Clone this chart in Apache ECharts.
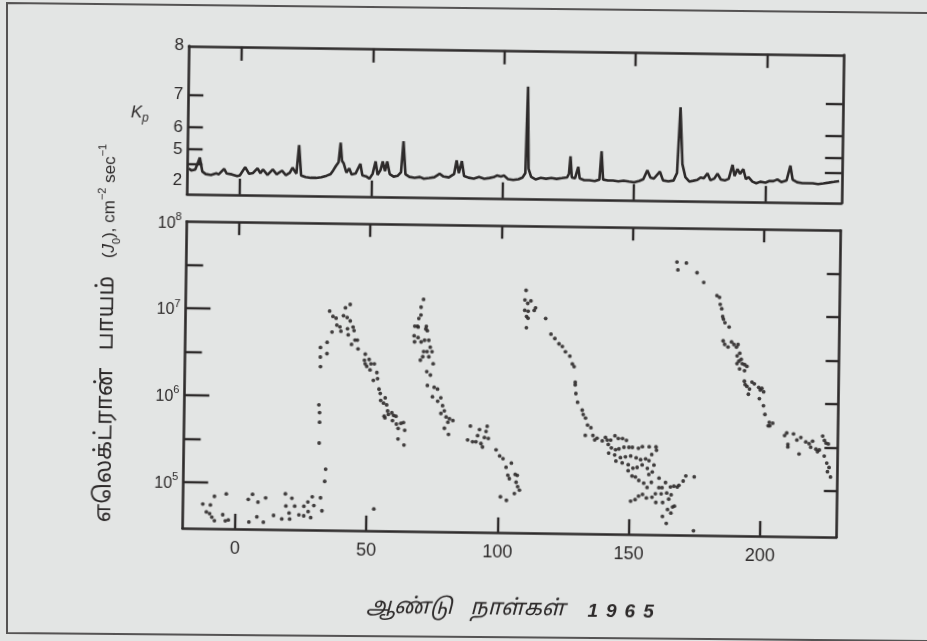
<!DOCTYPE html>
<html><head><meta charset="utf-8">
<script src="https://cdn.jsdelivr.net/npm/echarts@6/dist/echarts.min.js"></script>
<style>
html,body{margin:0;padding:0;background:#e3e5e4;width:927px;height:641px;overflow:hidden;}
#frame{position:absolute;left:0;top:0;width:927px;height:641px;}
#chart{position:absolute;left:0;top:0;width:927px;height:641px;transform:rotate(0.79deg);transform-origin:463px 320px;}
</style></head><body>
<svg id="frame" width="927" height="641"><polyline points="930,13 7,3 7,633 930,641" fill="none" stroke="#555353" stroke-width="2"/></svg>
<div id="chart"></div>
<script>
// ---- data ----
const dayTicks = [0, 50, 100, 150, 200];
const kpLabelValues = [2, 4, 5, 6, 7, 8];
const kpLeftTickValues = [4, 5, 6, 7];
const kpRightTickValues = [4, 5, 6, 7];
const fluxLabelExponents = [5, 6, 7, 8];
const fluxMajorExponents = [5, 6, 7];
const fluxMinorExponents = [5.5, 6.5, 7.5];
const fluxRightExponents = [5, 5.5, 6, 6.5, 7, 7.5];

// Kp index [day of 1965, Kp]
const kpPoints = [
[-19.5,3.6],[-18.5,3.4],[-17,3.5],[-16.2,4.0],[-15.3,4.5],[-14.3,3.3],[-13,3.0],[-11,2.9],[-9,3.1],[-8,3.0],[-6,3.6],[-5,3.1],[-3,3.0],[-1,2.8],[0,2.9],
[2,3.8],[3.5,3.1],[5,3.2],[6.7,3.7],[7.8,3.2],[8.8,3.6],[10.5,3.0],[12.5,3.6],[14,3.1],[16,3.5],[17.5,3.0],[19,3.3],[20,3.8],[21.5,3.2],[22.4,5.3],[23.3,3.0],
[25,2.8],[27,2.7],[29,2.7],[31,2.8],[33,3.0],[34.5,3.2],[35.5,3.6],[36.5,4.0],[37.5,4.3],[38.2,5.45],[38.8,4.4],[39.5,4.2],[40.5,3.4],[41.6,3.8],[42.5,3.2],
[44,3.3],[45.8,4.2],[46.6,3.1],[48,3.0],[49.3,2.7],[50.5,3.3],[51.6,4.4],[52.4,3.2],[53.5,3.7],[54.3,4.4],[55.2,3.6],[56,4.4],[57,3.3],[58.5,3.0],[60,3.1],
[61.3,3.5],[62.1,5.55],[63,3.3],[64.5,3.0],[66.5,2.9],[68.5,3.0],[70,2.8],[72,2.9],[74,3.0],[76,3.4],[77.5,3.1],[79.5,3.0],[81.5,3.4],[82.4,4.55],[83.3,3.5],
[84.4,4.5],[85.3,3.2],[87,3.0],[89,2.9],[91,3.1],[93,2.9],[95,3.0],[96.5,3.1],[97.8,3.3],[98.5,3.5],[99.3,3.2],[100.5,3.3],[102,2.9],[104,2.8],[106,2.9],
[107.5,3.1],[108.6,3.6],[109.2,7.3],[109.8,4.0],[110.8,3.2],[112.5,2.9],[114.5,3.1],[116.5,3.0],[118.5,3.1],[120.5,3.0],[122.5,3.1],[124.5,3.2],[125.2,3.6],
[125.7,4.9],[126.3,3.2],[127.5,3.1],[128.2,3.8],[128.7,4.2],[129.3,3.1],[131,2.9],[133,2.9],[135,2.8],[136.8,3.0],[137.5,5.2],[138.2,3.0],[140,2.9],[142,2.9],
[144,2.8],[146,2.9],[148,2.8],[150,2.7],[152,2.9],[153.5,3.1],[155,4.0],[156.2,3.3],[157.5,3.2],[159.8,3.9],[161,3.0],[163,2.9],[165,3.0],[166.3,3.8],
[167.3,6.85],[168.3,4.5],[169.5,3.4],[171,2.9],[172.5,3.0],[174,3.1],[175.3,3.4],[176.5,3.3],[177.9,3.8],[179,3.1],[180.5,3.3],[181.7,3.8],[183,3.2],
[184.5,3.1],[186,3.3],[187.4,4.5],[188.2,3.6],[189.3,4.2],[190.3,3.8],[191.5,4.2],[192.5,3.3],[193.5,3.5],[195,3.0],[196.5,2.8],[198,3.0],[200,2.9],
[201.5,3.1],[203,3.1],[204.5,3.3],[206,3.0],[208,3.2],[209.4,4.5],[210.3,3.3],[212,3.0],[214,2.9],[216,2.9],[218,2.9],[220,2.8],[222,2.9],[224,3.0],[226,3.1],[228,3.2]
];

// Electron flux J0: [day of 1965, log10(J0 in cm^-2 s^-1)]
const fluxQuiet = [
[-12.4,4.75],[-9.5,4.74],[-8.0,4.84],[-11.0,4.66],[-9.75,4.64],[-8.9,4.60],[-7.9,4.56],[-4.75,4.63],[-3.5,4.87],[-2.6,4.57],[-3.75,4.56],[5.25,4.55],
[4.9,4.81],[6.5,4.87],[8.6,4.78],[8.25,4.61],[10.75,4.55],[11.5,4.83],[14.6,4.63],[17.75,4.59],[19.0,4.88],[19.25,4.74],[20.75,4.59],[20.5,4.66],
[21.5,4.83],[22.6,4.74],[24.25,4.64],[26.1,4.74],[26.1,4.63],[27.75,4.68],[27.6,4.79],[28.75,4.61],[29.25,4.85],[29.9,4.75],[32.4,4.84],[33.0,4.69],[52.75,4.72]
];
const fluxEvent1 = [
[33.9,5.03],[34.2,5.17],[31.6,5.47],[31.65,5.71],[31.6,5.82],[31.3,5.91],[31.7,6.35],[31.6,6.46],[31.6,6.57],[34.1,6.50],[34.1,6.63],
[34.9,6.99],[36.2,6.93],[35.9,6.75],[37.4,6.91],[37.7,6.83],[38.9,6.81],[39.3,6.76],[40.2,6.94],[40.9,7.03],[41.6,6.92],[41.8,6.79],[42.1,6.72],
[42.7,7.07],[42.8,6.88],[43.4,6.61],[43.9,6.81],[44.3,6.77],[44.7,6.66],[45.6,6.66],[45.9,6.56],[48.7,6.50],[48.4,6.43],[48.7,6.39],[49.3,6.36],
[50.2,6.44],[50.9,6.39],[52.2,6.39],[50.6,6.32],[51.9,6.20],[53.5,6.22],[53.2,6.29],[54.1,6.10],[54.6,6.05],[54.8,5.97],[55.9,5.94],[56.5,6.00],
[57.1,5.92],[57.5,5.85],[56.2,5.79],[56.5,5.77],[57.8,5.81],[59.1,5.83],[59.4,5.74],[59.8,5.80],[60.7,5.79],[60.9,5.70],[61.6,5.65],[62.6,5.71],
[63.6,5.72],[64.1,5.63],[61.6,5.53],[63.9,5.46]
];
const fluxEvent2 = [
[70.6,7.14],[69.7,7.05],[69.7,6.96],[68.9,6.92],[68.4,6.83],[67.4,6.83],[68.7,6.82],[71.8,6.83],[71.6,6.80],[67.2,6.72],[68.7,6.70],[67.4,6.65],
[69.9,6.65],[71.2,6.67],[70.9,6.54],[72.2,6.54],[70.6,6.48],[69.7,6.44],[72.2,6.31],[72.2,6.78],[72.8,6.67],[73.4,6.59],[74.1,6.54],[72.9,6.48],
[74.6,6.40],[73.6,6.27],[72.5,6.15],[75.1,6.13],[76.4,6.11],[74.5,6.02],[77.7,6.01],[76.5,5.97],[78.4,5.92],[79.1,5.86],[77.8,5.83],[79.8,5.79],
[81.1,5.77],[82.4,5.75],[80.5,5.73],[79.2,5.66],[80.8,5.59],[89.1,5.69],[88.1,5.53],[90.0,5.51],[91.9,5.58],[92.6,5.65],[93.2,5.49],[93.8,5.45],
[94.5,5.56],[95.1,5.63],[95.5,5.69],[96.0,5.55],[91.3,5.51],[99.0,5.42],[100.4,5.35],[101.7,5.32],[102.9,5.22],[104.9,5.27],[103.6,5.13],[104.2,5.09],
[106.4,5.14],[107.2,5.13],[106.8,5.05],[108.1,4.96],[106.2,4.92],[107.4,5.00],[100.9,4.88],[103.2,4.84]
];
const fluxEvent3 = [
[109.6,7.26],[109.2,7.15],[110.3,7.11],[111.5,7.14],[113.3,7.06],[112.8,7.03],[109.2,7.03],[110.5,7.02],[109.9,6.96],[110.5,6.94],[109.9,6.83],
[117.2,6.94],[119.3,6.76],[120.8,6.71],[122.4,6.65],[123.7,6.62],[124.9,6.56],[126.6,6.51],[127.6,6.42],[128.3,6.39],[128.8,6.21],[128.8,6.18],
[129.1,6.08],[129.8,5.98],[131.6,5.89],[132.0,5.84],[132.9,5.80],[133.7,5.72],[135.0,5.69],
[132.9,5.60],[135.8,5.60],[136.5,5.55],[137.4,5.57],[139.4,5.54],[140.6,5.58],[141.3,5.55],[142.6,5.55],[144.2,5.60],[145.5,5.57],[147.1,5.57],
[148.6,5.55],[141.7,5.50],[142.9,5.46],[144.5,5.44],[145.8,5.45],[147.7,5.47],[149.6,5.47],[150.9,5.47],[153.2,5.46],[154.7,5.48],[157.3,5.48],
[159.9,5.48],[160.1,5.44],[141.9,5.40],[144.2,5.38],[146.4,5.35],[148.3,5.36],[150.3,5.37],[152.4,5.35],[154.1,5.33],[156.0,5.34],[157.3,5.32],
[158.3,5.39],[159.2,5.27],[144.7,5.31],[147.1,5.29],[149.4,5.27],[151.2,5.23],[152.8,5.24],[154.7,5.27],[156.7,5.23],[158.6,5.19],[157.3,5.16],
[149.4,5.20],[150.9,5.14],[152.2,5.13],[153.5,5.09],[155.4,5.06],[156.7,5.01],[158.3,5.07],[161.2,5.12],[162.4,5.01],[161.2,5.01],[163.7,5.07],
[165.6,5.02],[166.9,5.03],[168.2,5.02],[168.8,5.04],[170.4,5.09],[171.4,5.15],[174.6,5.14],
[150.5,4.85],[152.2,4.87],[153.5,4.91],[155.0,4.93],[156.5,4.89],[158.6,4.90],[159.9,4.94],[160.1,4.84],[162.1,4.94],[162.7,4.84],[164.2,4.95],
[165.0,4.88],[165.9,4.93],[167.2,4.80],[165.9,4.72],[164.6,4.76],[162.7,4.68],[164.2,4.60],[166.5,4.79],[174.6,4.52]
];
const fluxEvent4 = [
[166.9,7.61],[167.3,7.52],[170.5,7.60],[174.6,7.49],[177.2,7.38],[182.3,7.23],[183.3,7.21],[183.6,7.13],[184.2,7.08],[184.6,6.99],[184.9,6.96],
[185.5,6.92],[187.1,6.87],[184.9,6.71],[185.5,6.67],[186.8,6.64],[188.1,6.70],[189.0,6.67],[190.0,6.64],[190.6,6.67],[191.3,6.57],[190.3,6.54],
[191.9,6.50],[191.0,6.48],[190.3,6.45],[192.3,6.45],[193.2,6.44],[194.1,6.42],[193.2,6.37],[191.3,6.39],[193.2,6.25],[193.5,6.21],[194.2,6.19],
[195.2,6.16],[196.1,6.24],[197.0,6.22],[198.7,6.18],[199.3,6.15],[199.9,6.17],[200.6,6.13],[194.8,6.10],[199.0,6.05],[200.6,5.97],[201.2,5.87],
[202.9,5.78],[203.1,5.74],[204.2,5.77],[202.5,5.74],[208.8,5.63],[209.6,5.66],[210.1,5.53],[210.1,5.50],[213.5,5.58],[212.2,5.65],[215.0,5.61],
[214.4,5.42],[216.9,5.56],[218.2,5.54],[218.8,5.50],[219.5,5.57],[220.8,5.48],[221.4,5.45],[222.1,5.47],[223.3,5.63],[224.0,5.58],[224.6,5.55],
[225.5,5.54],[224.0,5.40],[225.0,5.32],[225.9,5.27],[225.3,5.22],[226.5,5.16]
];

// ---- chart ----
const INK = '#2d2a2a';
const KP_BASE = 1.49; // the Kp axis of the figure is stretched: position grows as KP_BASE^Kp
const kpPos = k => Math.pow(KP_BASE, k);
const kpFromPos = v => Math.round(Math.log(v) / Math.log(KP_BASE));
const pow10 = e => Math.pow(10, e);
const line = {onZero: false, lineStyle: {color: INK, width: 2.6}};
const noLine = {show: false, onZero: false};
const tickStyle = {color: INK, width: 2.4};
const font = '"Liberation Sans", Arial, sans-serif';
const tamil = '"Noto Sans Tamil", "Lohit Tamil", "Noto Serif Tamil", ' + font;

const chart = echarts.init(document.getElementById('chart'), null, {renderer: 'canvas'});
const fluxAll = [].concat(fluxQuiet, fluxEvent1, fluxEvent2, fluxEvent3, fluxEvent4);

const kpAxis = extra => Object.assign({gridIndex: 0, type: 'value', min: 0, max: kpPos(8), splitLine: {show: false}}, extra);
const fluxAxis = extra => Object.assign({gridIndex: 1, type: 'log', min: 29500, max: 1e8, splitLine: {show: false}}, extra);
const dayAxis = extra => Object.assign({type: 'value', min: -20, max: 229, splitLine: {show: false}}, extra);

chart.setOption({
  animation: false,
  backgroundColor: 'transparent',
  textStyle: {fontFamily: font, color: INK},
  grid: [
    {left: 185.3, top: 49.8, width: 654.5, height: 148},
    {left: 185.4, top: 225.2, width: 653.8, height: 306.7}
  ],
  xAxis: [
    dayAxis({gridIndex: 0, position: 'bottom', axisLine: line,
     axisTick: {inside: true, length: 16, customValues: dayTicks, lineStyle: tickStyle}, axisLabel: {show: false}}),
    dayAxis({gridIndex: 0, position: 'top', axisLine: line,
     axisTick: {inside: true, length: 14, customValues: dayTicks, lineStyle: tickStyle}, axisLabel: {show: false}}),
    dayAxis({gridIndex: 1, position: 'bottom', axisLine: line,
     axisTick: {inside: true, length: 15, customValues: dayTicks, lineStyle: tickStyle},
     axisLabel: {customValues: dayTicks, margin: 11, fontSize: 18, color: INK, fontFamily: font}}),
    dayAxis({gridIndex: 1, position: 'top', axisLine: line,
     axisTick: {inside: true, length: 13, customValues: dayTicks, lineStyle: tickStyle}, axisLabel: {show: false}})
  ],
  yAxis: [
    kpAxis({position: 'left', axisLine: line, axisTick: {show: false},
     axisLabel: {customValues: kpLabelValues.map(kpPos), formatter: v => String(kpFromPos(v)),
                 showMinLabel: true, showMaxLabel: true, hideOverlap: false,
                 margin: 5, fontSize: 17, lineHeight: 12, color: INK, fontFamily: font}}),
    kpAxis({position: 'left', offset: -15, axisLine: noLine,
     axisTick: {show: true, inside: false, length: 15, customValues: kpLeftTickValues.map(kpPos), lineStyle: tickStyle},
     axisLabel: {show: false}}),
    kpAxis({position: 'right', axisLine: line,
     axisTick: {inside: true, length: 17, customValues: kpRightTickValues.map(kpPos), lineStyle: tickStyle},
     axisLabel: {show: false}}),
    fluxAxis({position: 'left', axisLine: line,
     axisTick: {inside: true, length: 25, customValues: fluxMajorExponents.map(pow10), lineStyle: tickStyle},
     axisLabel: {customValues: fluxLabelExponents.map(pow10), margin: 5, showMinLabel: true, showMaxLabel: true,
                 formatter: v => '{b|10}{e|' + Math.round(Math.log10(v)) + '}',
                 rich: {b: {fontSize: 16, fontFamily: font, color: INK, verticalAlign: 'bottom', lineHeight: 20},
                        e: {fontSize: 11, fontFamily: font, color: INK, verticalAlign: 'top', lineHeight: 12}}}}),
    fluxAxis({position: 'left', axisLine: noLine,
     axisTick: {show: true, inside: true, length: 17, customValues: fluxMinorExponents.map(pow10), lineStyle: tickStyle},
     axisLabel: {show: false}}),
    fluxAxis({position: 'right', axisLine: line,
     axisTick: {inside: true, length: 13, customValues: fluxRightExponents.map(pow10), lineStyle: tickStyle},
     axisLabel: {show: false}})
  ],
  series: [
    {type: 'line', xAxisIndex: 0, yAxisIndex: 0, showSymbol: false, clip: true,
     lineStyle: {color: INK, width: 2.6}, data: kpPoints.map(p => [p[0], kpPos(p[1])])},
    {type: 'scatter', xAxisIndex: 2, yAxisIndex: 3, symbolSize: 3.8, clip: true,
     itemStyle: {color: INK, opacity: 0.9}, data: fluxAll.map(p => [p[0], pow10(p[1])])}
  ],
  graphic: [
    {type: 'text', x: 137, y: 119, style: {text: '{k|K}{p|p}', align: 'center', verticalAlign: 'middle',
      rich: {k: {fontSize: 17, fontStyle: 'italic', fontFamily: font, fill: INK, verticalAlign: 'top', lineHeight: 20},
             p: {fontSize: 12, fontStyle: 'italic', fontFamily: font, fill: INK, verticalAlign: 'bottom', lineHeight: 14}}}},
    {type: 'text', x: 516, y: 610, style: {
      text: '{t|ஆண்டு}{g| }{t|நாள்கள்}{g| }{n|1}{n|9}{n|6}{n|5}', align: 'center', verticalAlign: 'middle',
      rich: {t: {fontSize: 22, fontStyle: 'italic', fontFamily: tamil, fill: INK},
             g: {fontSize: 22, padding: [0, 6, 0, 6]},
             n: {fontSize: 19, fontStyle: 'italic', fontWeight: 'bold', fontFamily: font, fill: INK, padding: [0, 4, 0, 4]}}}},
    {type: 'text', x: 108, y: 338, rotation: Math.PI / 2, style: {
      text: '{t|எலெக்ட்ரான்}{g| }{t|பாயம்}{g| }{n|(}{i|J}{s|0}{n|), cm}{u|−2}{n| sec}{u|−1}', align: 'center', verticalAlign: 'middle',
      rich: {t: {fontSize: 23, fontFamily: tamil, fill: INK, verticalAlign: 'middle', lineHeight: 26},
             g: {fontSize: 20, padding: [0, 6, 0, 6]},
             n: {fontSize: 17, fontFamily: font, fill: INK, verticalAlign: 'middle', lineHeight: 26},
             i: {fontSize: 17, fontStyle: 'italic', fontFamily: font, fill: INK, verticalAlign: 'middle', lineHeight: 26},
             s: {fontSize: 11, fontFamily: font, fill: INK, verticalAlign: 'bottom', lineHeight: 16},
             u: {fontSize: 11, fontFamily: font, fill: INK, verticalAlign: 'top', lineHeight: 16}}}}
  ]
});
</script></body></html>
